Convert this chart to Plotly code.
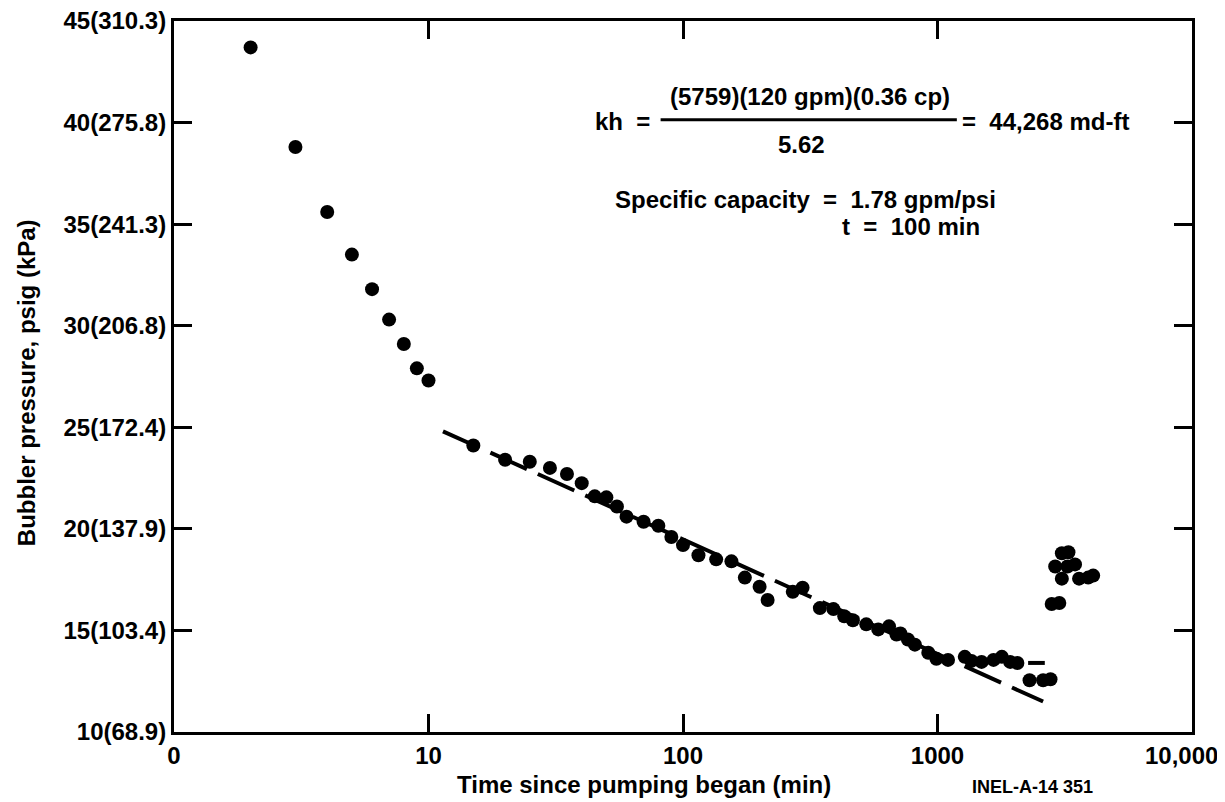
import plotly.graph_objects as go

# pumping test readings (time in min, bubbler pressure in psig)
time_min = [2, 3, 4, 5, 6, 7, 8, 9, 10,
            15, 20, 25, 30, 35, 40, 45, 50, 55, 60, 70, 80, 90,
            100, 115, 135, 155, 175, 200, 215, 270, 295, 345, 390, 430,
            465, 525, 585, 645, 690, 715, 765, 815, 920, 990,
            1100, 1280, 1360, 1490, 1660, 1790, 1930, 2060, 2300, 2600, 2780,
            2810, 3010, 3080, 3270, 2900, 3240, 3470, 3080, 3600, 3910, 4090]
pressure_psig = [43.7, 38.8, 35.6, 33.5, 31.8, 30.3, 29.1, 27.9, 27.3,
                 24.1, 23.4, 23.3, 23.0, 22.7, 22.25, 21.6, 21.55, 21.1, 20.6, 20.35, 20.15, 19.6,
                 19.2, 18.7, 18.5, 18.4, 17.6, 17.15, 16.5, 16.9, 17.1, 16.1, 16.05, 15.7,
                 15.5, 15.3, 15.05, 15.2, 14.8, 14.85, 14.55, 14.3, 13.9, 13.6,
                 13.55, 13.7, 13.5, 13.45, 13.55, 13.7, 13.45, 13.4, 12.55, 12.55, 12.6,
                 16.3, 16.35, 18.8, 18.85, 18.15, 18.15, 18.25, 17.55, 17.55, 17.6, 17.7]

# straight-line fit (5.62 psi per log cycle)
fit_time = [11.4, 2600]
fit_psig = [24.8, 11.5]
stub_time = [2270, 2640]
stub_psig = [13.4, 13.4]

x_tick_vals = [1, 10, 100, 1000, 10000]
x_tick_text = ["0", "10", "100", "1000", "10,000"]
y_tick_vals = [10, 15, 20, 25, 30, 35, 40, 45]
y_tick_text = ["10(68.9)", "15(103.4)", "20(137.9)", "25(172.4)",
               "30(206.8)", "35(241.3)", "40(275.8)", "45(310.3)"]

FONT = "Liberation Sans, Arial, Helvetica, sans-serif"
font = dict(family=FONT, size=24, color="black", weight="bold")

fig = go.Figure()
fig.add_trace(go.Scatter(x=fit_time, y=fit_psig, mode="lines",
                         line=dict(color="black", width=4, dash="40px,12px"),
                         hoverinfo="skip"))
fig.add_trace(go.Scatter(x=stub_time, y=stub_psig, mode="lines",
                         line=dict(color="black", width=4), hoverinfo="skip"))
fig.add_trace(go.Scatter(x=time_min, y=pressure_psig, mode="markers",
                         marker=dict(color="black", size=14)))

axis_common = dict(showline=True, linecolor="black", linewidth=3, mirror="ticks",
                   ticks="inside", ticklen=18, tickwidth=3, tickcolor="black",
                   showgrid=False, zeroline=False, tickfont=font, automargin=False,
                   ticklabeloverflow="allow")

# last x label would run past the window edge, so it is placed as an annotation
fig.update_xaxes(type="log", range=[0, 4], tickvals=x_tick_vals,
                 ticktext=x_tick_text[:-1] + [""], **axis_common)
fig.update_yaxes(range=[10, 45], tickvals=y_tick_vals, ticktext=y_tick_text,
                 **axis_common)

ann = [
    dict(text="kh  =", x=0.4686, y=0.859, xanchor="right"),
    dict(text="(5759)(120 gpm)(0.36 cp)", x=0.625, y=0.8945, xanchor="center"),
    dict(text="5.62", x=0.616, y=0.827, xanchor="center"),
    dict(text="=  44,268 md-ft", x=0.773, y=0.859, xanchor="left"),
    dict(text="Specific capacity  =  1.78 gpm/psi", x=0.432, y=0.749, xanchor="left"),
    dict(text="t  =  100 min", x=0.655, y=0.711, xanchor="left"),
    dict(text="Time since pumping began (min)", x=0.4617, y=-0.0745, xanchor="center"),
    dict(text="Bubbler pressure, psig (kPa)", x=-0.1454, y=0.492, xanchor="center",
         textangle=-90),
    dict(text=x_tick_text[-1], x=1.0265, y=-0.033, xanchor="right"),
]
for a in ann:
    fig.add_annotation(xref="paper", yref="paper", yanchor="middle", showarrow=False,
                       font=font, borderpad=0, **a)
fig.add_annotation(text="INEL-A-14 351", xref="paper", yref="paper", x=0.843, y=-0.077,
                   xanchor="center", yanchor="middle", showarrow=False,
                   font=dict(family=FONT, size=18, color="black", weight="bold"))

# fraction bar
fig.add_shape(type="line", xref="paper", yref="paper", x0=0.478, x1=0.769,
              y0=0.861, y1=0.861, line=dict(color="black", width=3))

# the page body has an 8px margin, so the figure is sized to fit the window
fig.update_layout(width=1217, height=794, showlegend=False,
                  plot_bgcolor="white", paper_bgcolor="white",
                  margin=dict(l=166, r=33, t=13, b=70))

fig.write_html("out.html")
